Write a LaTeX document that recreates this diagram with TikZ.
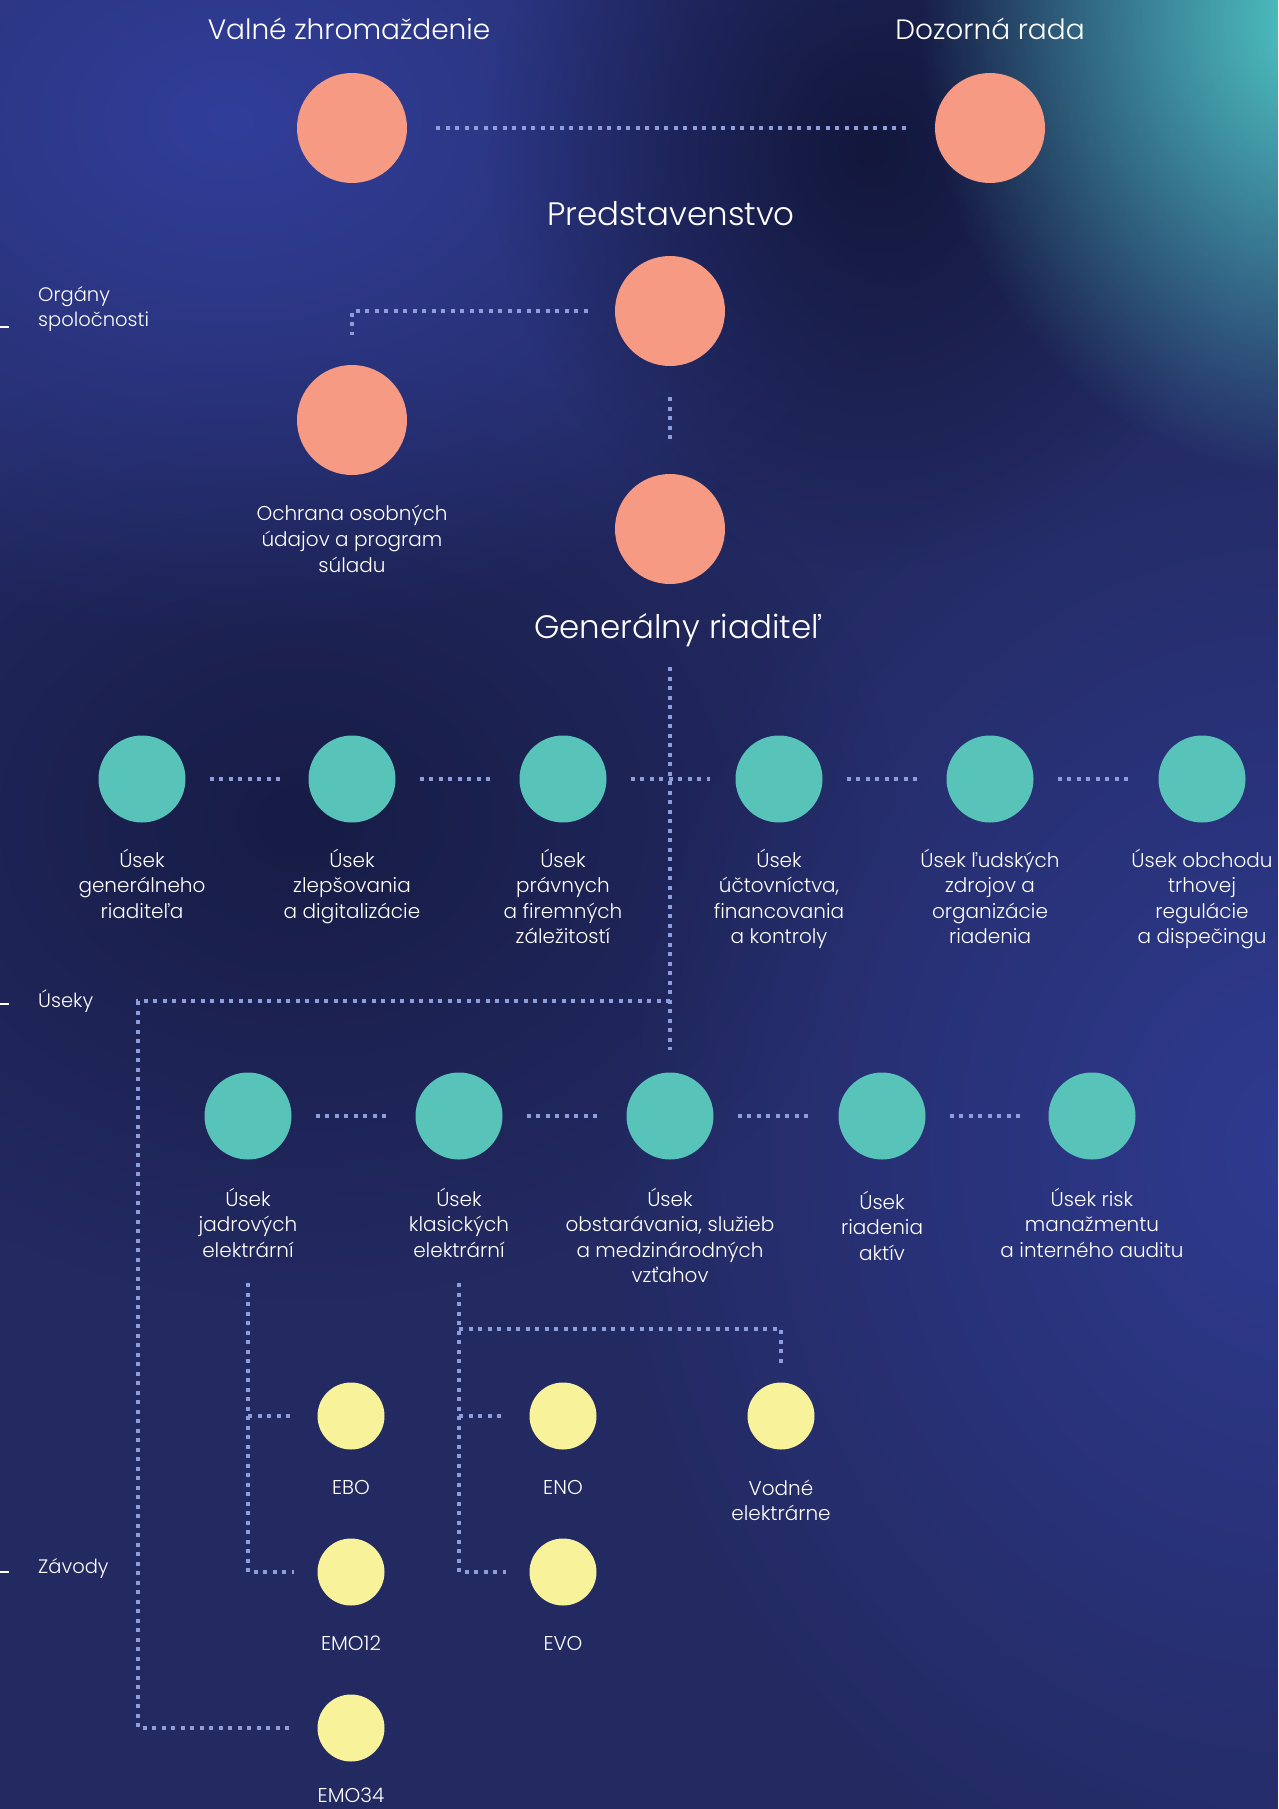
\documentclass[tikz,border=0pt]{standalone}
\usepackage{fontspec}
\setmainfont{Poppins}[UprightFont={* Light}]
\usetikzlibrary{positioning,fadings}

\definecolor{bgbase}{HTML}{232A62}
\definecolor{bgblue}{HTML}{3442A4}
\definecolor{bgdark}{HTML}{12163A}
\definecolor{bgteal}{HTML}{52D2CA}
\definecolor{salmon}{HTML}{F69A84}
\definecolor{tealdot}{HTML}{57C3B9}
\definecolor{lemon}{HTML}{F8F29A}
\definecolor{dotline}{HTML}{8E9DDC}

\tikzfading[name=blob, inner color=transparent!0, outer color=transparent!100]

\tikzset{
  organ/.style={circle, fill=salmon, minimum size=110pt, inner sep=0pt},
  usek/.style={circle, fill=tealdot, minimum size=87pt, inner sep=0pt},
  zavod/.style={circle, fill=lemon, minimum size=67pt, inner sep=0pt},
  heading/.style={text=white, inner sep=0pt, font=\fontsize{28}{34}\selectfont},
  bigheading/.style={heading, font=\fontsize{32.5}{38}\selectfont},
  lbl/.style={text=white, align=center, inner sep=0pt, font=\fontsize{20}{25.6}\selectfont},
  side/.style={text=white, align=left, anchor=west, inner sep=0pt, font=\fontsize{19.5}{25}\selectfont},
  dots/.style={draw=dotline, line width=4pt, dash pattern=on 4pt off 5.5pt},
}

\begin{document}
\begin{tikzpicture}[x=1pt, y=-1pt]
\useasboundingbox (0,0) rectangle (1278,1809);

% background
\begin{scope}
\clip (0,0) rectangle (1278,1809);
\fill[bgbase] (0,0) rectangle (1278,1809);
\fill[bgdark, path fading=blob, opacity=.7] (300,820) ellipse [x radius=600, y radius=480];
\fill[bgblue, path fading=blob, opacity=.85] (230,120) ellipse [x radius=720, y radius=520];
\fill[bgblue, path fading=blob, opacity=.7] (1300,1150) ellipse [x radius=700, y radius=800];
\fill[bgdark, path fading=blob, opacity=.95] (870,150) ellipse [x radius=380, y radius=420];
\fill[bgteal, path fading=blob, opacity=.95] (1320,20) ellipse [x radius=400, y radius=460];
\end{scope}

% organy spolocnosti
\node[organ] (vz) at (352,128) {};
\node[organ] (dr) at (990,128) {};
\node[organ] (pr) at (670,311) {};
\node[organ] (oou) at (352,420) {};
\node[organ] (gr) at (670,529) {};
\node[heading] (vzname) at (349,29) {Valné zhromaždenie};
\node[heading] (drname) at (990,29) {Dozorná rada};
\node[bigheading] (prname) at (671,214) {Predstavenstvo};
\node[bigheading] (grname) at (678,630) {Generálny riaditeľ};
\node[lbl, below=30pt of oou] (oouname) {Ochrana osobných\\údajov a program\\súladu};

\draw[dots, shorten <=29pt, shorten >=29pt] (vz) -- (dr);
\draw[dots, shorten <=27pt, shorten >=30pt] (pr) -| (oou);
\draw[dots, shorten <=31pt, shorten >=30pt] (pr) -- (gr);

% useky
\foreach \x/\txt [count=\i] in {142/{Úsek\\generálneho\\riaditeľa}, 352/{Úsek\\zlepšovania\\a digitalizácie},
  563/{Úsek\\právnych\\a firemných\\záležitostí}, 779/{Úsek\\účtovníctva,\\financovania\\a kontroly},
  990/{Úsek ľudských\\zdrojov a\\organizácie\\riadenia}, 1202/{Úsek obchodu\\trhovej\\regulácie\\a dispečingu}}
{
  \node[usek] (u\i) at (\x,779) {};
  \node[lbl, below=26pt of u\i] (u\i name) {\txt};
}
\foreach \x/\dy/\txt [count=\i] in {248/28/{Úsek\\jadrových\\elektrární}, 459/28/{Úsek\\klasických\\elektrární},
  670/28/{Úsek\\obstarávania, služieb\\a medzinárodných\\vzťahov}, 882/31/{Úsek\\riadenia\\aktív},
  1092/28/{Úsek risk\\manažmentu\\a interného auditu}}
{
  \node[usek] (v\i) at (\x,1116) {};
  \node[lbl, below=\dy pt of v\i] (v\i name) {\txt};
}
\foreach \j [count=\i] in {2,...,6}
  \draw[dots, shorten <=24pt, shorten >=25pt] (u\i) -- (u\j);
\foreach \j [count=\i] in {2,...,5}
  \draw[dots, shorten <=24pt, shorten >=25pt] (v\i) -- (v\j);

% zavody
\node[zavod] (ebo) at (351,1416) {};
\node[zavod] (emo12) at (351,1572) {};
\node[zavod] (emo34) at (351,1728) {};
\node[zavod] (eno) at (563,1416) {};
\node[zavod] (evo) at (563,1572) {};
\node[zavod] (ve) at (781,1416) {};
\foreach \n/\dy/\txt in {ebo/30/EBO, emo12/30/EMO12, emo34/26/EMO34, eno/30/ENO, evo/30/EVO, ve/30/{Vodné\\elektrárne}}
  \node[lbl, below=\dy pt of \n] (\n name) {\txt};

\coordinate (grtop) at (670,667);
\coordinate (grend) at (670,1050);
\coordinate (ucorner) at (138,1001);
\coordinate (jtop) at (248,1283);
\coordinate (ktop) at (459,1283);
\coordinate (kbranch) at (459,1329);

\draw[dots] (grtop) -- (grend);
\draw[dots, shorten >=23pt] (grtop |- ucorner) -- (ucorner) |- (emo34);
\draw[dots, shorten >=23pt] (jtop) |- (emo12);
\draw[dots, shorten >=23pt] (jtop |- ebo) -- (ebo);
\draw[dots, shorten >=23pt] (ktop) |- (evo);
\draw[dots, shorten >=23pt] (ktop |- eno) -- (eno);
\draw[dots, shorten >=15pt] (kbranch) -| (ve);

% bocne popisy
\node[side] (organy) at (38,309) {Orgány\\spoločnosti};
\node[side] (useky) at (38,1001) {Úseky};
\node[side] (zavody) at (38,1568) {Závody};
\foreach \y in {327,1004,1572}
  \draw[white, line width=1.2pt] (0,\y) -- (9,\y);

\end{tikzpicture}
\end{document}
